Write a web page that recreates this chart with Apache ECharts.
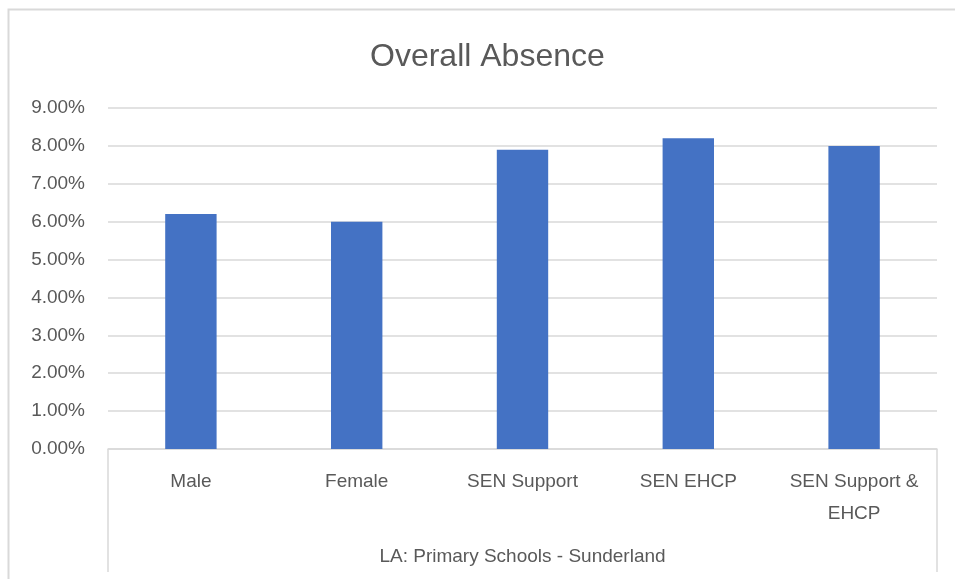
<!DOCTYPE html>
<html>
<head>
<meta charset="utf-8">
<script src="https://cdn.jsdelivr.net/npm/echarts@6/dist/echarts.min.js"></script>
<style>html,body{margin:0;padding:0;background:#fff}#c{width:955px;height:579px}</style>
</head>
<body>
<div id="c"></div>
<script>
var categories = ['Male', 'Female', 'SEN Support', 'SEN EHCP', 'SEN Support &\nEHCP'];
var values = [6.2, 6.0, 7.9, 8.2, 8.0];
var groupLabels = ['LA: Primary Schools - Sunderland'];
var titleText = 'Overall Absence';

var FONT = '"Liberation Sans", Arial, sans-serif';
var TXT = '#595959';
var GRID = '#d9d9d9';

var chart = echarts.init(document.getElementById('c'));
chart.setOption({
  animation: false,
  backgroundColor: '#fff',
  title: {
    text: titleText,
    left: 365,
    top: 36,
    padding: [5, 5, 5, 5],
    textStyle: { fontFamily: FONT, fontSize: 32, fontWeight: 'normal', color: TXT }
  },
  graphic: [{
    type: 'rect',
    shape: { x: 8.5, y: 9.5, width: 970, height: 600 },
    style: { fill: 'none', stroke: GRID, lineWidth: 2 },
    silent: true
  }],
  grid: { left: 108, right: 18, top: 108, bottom: 130, containLabel: false },
  xAxis: [{
    type: 'category',
    data: categories,
    axisLine: { show: true, lineStyle: { color: GRID, width: 1.5 } },
    axisTick: { show: false },
    axisLabel: {
      interval: 0, margin: 17, lineHeight: 32,
      fontFamily: FONT, fontSize: 19, color: TXT
    }
  }, {
    type: 'category',
    data: groupLabels,
    position: 'bottom',
    axisLine: { show: false },
    axisTick: { show: true, length: 123, alignWithLabel: false, lineStyle: { color: GRID, width: 1.5 } },
    axisLabel: { margin: 98, lineHeight: 20, fontFamily: FONT, fontSize: 19, color: TXT }
  }],
  yAxis: {
    type: 'value',
    min: 0, max: 9, interval: 1,
    axisLine: { show: false },
    axisTick: { show: false },
    splitLine: { lineStyle: { color: GRID, width: 1.5 } },
    axisLabel: {
      margin: 23, fontFamily: FONT, fontSize: 19, color: TXT,
      formatter: function (v) { return v.toFixed(2) + '%'; }
    }
  },
  series: [{
    type: 'bar',
    data: values,
    xAxisIndex: 0,
    barWidth: '31%',
    itemStyle: { color: '#4472C4' }
  }]
});
</script>
</body>
</html>
